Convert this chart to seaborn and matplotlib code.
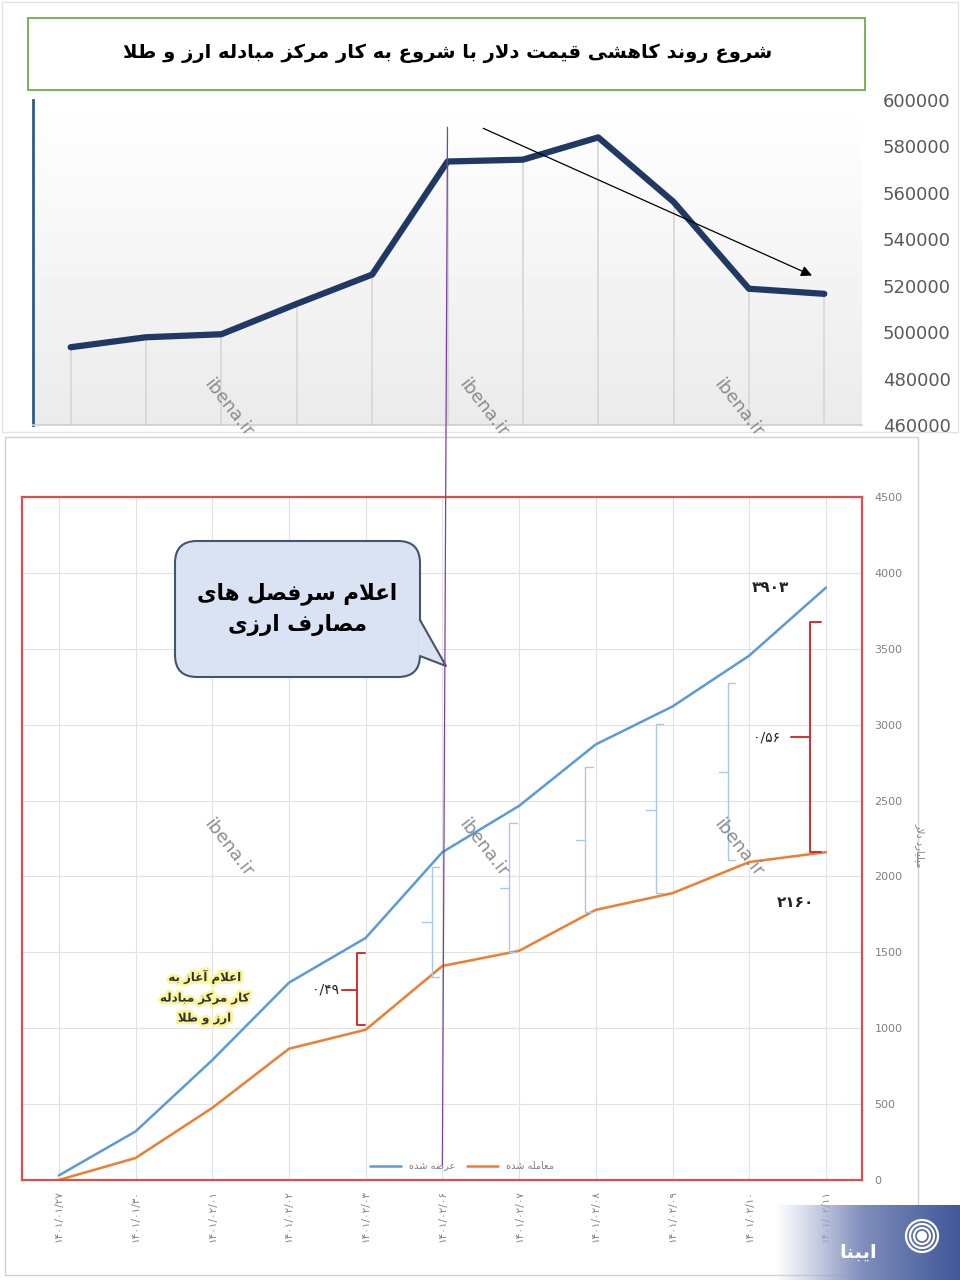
import numpy as np
import pandas as pd
import seaborn as sns
import matplotlib.pyplot as plt
from matplotlib.patches import Rectangle, FancyBboxPatch, Polygon, Circle, ConnectionPatch
from matplotlib import patheffects as pe

# ---- data ----
dates = ["۱۴۰۱/۰۱/۲۷", "۱۴۰۱/۰۱/۳۰", "۱۴۰۱/۰۲/۰۱", "۱۴۰۱/۰۲/۰۲", "۱۴۰۱/۰۲/۰۳", "۱۴۰۱/۰۲/۰۶",
         "۱۴۰۱/۰۲/۰۷", "۱۴۰۱/۰۲/۰۸", "۱۴۰۱/۰۲/۰۹", "۱۴۰۱/۰۲/۱۰", "۱۴۰۱/۰۲/۱۱"]
dollar = [493500, 497800, 499100, 512200, 524800, 573500, 574300, 583900, 556100, 518700, 516500]
offered = [30, 320, 790, 1300, 1595, 2160, 2465, 2870, 3120, 3455, 3903]
traded = [0, 145, 475, 865, 990, 1410, 1510, 1780, 1890, 2095, 2160]
top_ticks = [460000, 480000, 500000, 520000, 540000, 560000, 580000, 600000]
bot_ticks = [0, 500, 1000, 1500, 2000, 2500, 3000, 3500, 4000, 4500]

title = "شروع روند کاهشی قیمت دلار با شروع به کار مرکز مبادله ارز و طلا"
callout = ["اعلام سرفصل های", "مصارف ارزی"]
start_note = ["اعلام آغاز به", "کار مرکز مبادله", "ارز و طلا"]
lbl_offered = "عرضه شده"
lbl_traded = "معامله شده"
ylabel = "میلیارد دلار"
logo_txt = "ایبنا"
end_offered = "۳۹۰۳"
end_traded = "۲۱۶۰"
ratio_a = "۰/۴۹"
ratio_b = "۰/۵۶"

# ---- simple persian shaping (matplotlib has no complex text layout) ----
FORMS = {
    'ا': ('\uFE8D', '\uFE8E', None, None), 'آ': ('\uFE81', '\uFE82', None, None),
    'ب': ('\uFE8F', '\uFE90', '\uFE91', '\uFE92'), 'ت': ('\uFE95', '\uFE96', '\uFE97', '\uFE98'),
    'د': ('\uFEA9', '\uFEAA', None, None), 'ر': ('\uFEAD', '\uFEAE', None, None),
    'ز': ('\uFEAF', '\uFEB0', None, None), 'س': ('\uFEB1', '\uFEB2', '\uFEB3', '\uFEB4'),
    'ش': ('\uFEB5', '\uFEB6', '\uFEB7', '\uFEB8'), 'ص': ('\uFEB9', '\uFEBA', '\uFEBB', '\uFEBC'),
    'ض': ('\uFEBD', '\uFEBE', '\uFEBF', '\uFEC0'), 'ط': ('\uFEC1', '\uFEC2', '\uFEC3', '\uFEC4'),
    'ع': ('\uFEC9', '\uFECA', '\uFECB', '\uFECC'), 'غ': ('\uFECD', '\uFECE', '\uFECF', '\uFED0'),
    'ف': ('\uFED1', '\uFED2', '\uFED3', '\uFED4'), 'ق': ('\uFED5', '\uFED6', '\uFED7', '\uFED8'),
    'ل': ('\uFEDD', '\uFEDE', '\uFEDF', '\uFEE0'), 'م': ('\uFEE1', '\uFEE2', '\uFEE3', '\uFEE4'),
    'ن': ('\uFEE5', '\uFEE6', '\uFEE7', '\uFEE8'), 'ه': ('\uFEE9', '\uFEEA', '\uFEEB', '\uFEEC'),
    'و': ('\uFEED', '\uFEEE', None, None), 'ی': ('\uFBFC', '\uFBFD', '\uFBFE', '\uFBFF'),
    'ک': ('\uFB8E', '\uFB8F', '\uFB90', '\uFB91'),
}
LAM_ALEF = {'ا': ('\uFEFB', '\uFEFC'), 'آ': ('\uFEF5', '\uFEF6')}


def fa(s):
    out, i, prev = [], 0, False
    while i < len(s):
        c = s[i]
        if c not in FORMS:
            out.append(c); prev = False; i += 1; continue
        if c == 'ل' and i + 1 < len(s) and s[i + 1] in LAM_ALEF:
            iso, fin = LAM_ALEF[s[i + 1]]
            out.append(fin if prev else iso); prev = False; i += 2; continue
        f = FORMS[c]
        nxt = s[i + 1] if i + 1 < len(s) else None
        joins = f[2] is not None and nxt in FORMS
        out.append(f[3] if prev and joins else f[1] if prev else f[2] if joins else f[0])
        prev = joins
        i += 1
    return ''.join(reversed(out))


sns.set_theme(style="white")
plt.rcParams['font.family'] = ['DejaVu Sans']

fig = plt.figure(figsize=(9.6, 12.8), dpi=100)


def px(x0, y0, x1, y1):
    return [x0 / 960, 1 - y1 / 1280, (x1 - x0) / 960, (y1 - y0) / 1280]


bg = fig.add_axes([0, 0, 1, 1], zorder=0)
bg.set_xlim(0, 960); bg.set_ylim(1280, 0); bg.axis('off')
bg.add_patch(Rectangle((5, 437), 913, 838, facecolor='white', edgecolor='#d0d0d0', lw=1))
bg.add_patch(Rectangle((2, 2), 956, 430, facecolor='none', edgecolor='#e4e4e4', lw=1))

# ---- top chart: dollar price ----
ax1 = fig.add_axes(px(33, 100, 862, 425), zorder=2)
x = np.arange(len(dollar))
grad = np.linspace(1.0, 0.92, 100)[:, None]
ax1.imshow(grad, extent=[-0.5, 10.5, 460000, 600000], aspect='auto', cmap='gray',
           vmin=0, vmax=1, zorder=0)
ax1.vlines(x, 460000, dollar, color='#d6d6d6', lw=1.2, zorder=1)
sns.lineplot(x=x, y=dollar, ax=ax1, color='#1f3864', lw=4.5, zorder=3)
ax1.annotate('', xy=(9.87, 523900), xytext=(5.44, 588300),
             arrowprops=dict(arrowstyle='-|>', color='black', lw=0.9, mutation_scale=16), zorder=4)
ax1.set_xlim(-0.5, 10.5)
ax1.set_ylim(460000, 600000)
ax1.set_xticks([])
ax1.yaxis.tick_right()
ax1.set_yticks(top_ticks)
ax1.tick_params(axis='y', length=0, pad=15, labelsize=13, labelcolor='#595959')
for s in ['top', 'right']:
    ax1.spines[s].set_visible(False)
ax1.spines['left'].set_color('#2e5d84'); ax1.spines['left'].set_linewidth(2)
ax1.spines['bottom'].set_color('#d0d0d0')
ax1.patch.set_alpha(0)

# ---- bottom chart: offered vs traded ----
ax2 = fig.add_axes(px(22, 497, 862, 1180), zorder=2)
ax2.set_facecolor('white')
sns.lineplot(x=x, y=offered, ax=ax2, color='#5b9bd5', lw=1.8, label=fa(lbl_offered))
sns.lineplot(x=x, y=traded, ax=ax2, color='#ed7d31', lw=1.8, label=fa(lbl_traded))
ax2.set_xlim(-0.48, 10.47)
ax2.set_ylim(0, 4500)
ax2.set_xticks(x)
ax2.set_xticklabels(dates, rotation=90, fontsize=7.5, color='#7f7f7f')
ax2.yaxis.tick_right()
ax2.set_yticks(bot_ticks)
ax2.tick_params(axis='y', length=0, pad=9, labelsize=8, labelcolor='#808080')
ax2.tick_params(axis='x', length=0, pad=7)
ax2.grid(True, color='#e2e2e2', lw=0.8)
for s in ax2.spines.values():
    s.set_color('#dc4f4f'); s.set_linewidth(1.6)
ax2.yaxis.set_label_position('right')
ax2.set_ylabel(fa(ylabel), rotation=-90, fontsize=7, color='#7f7f7f', labelpad=-14)
ax2.yaxis.set_label_coords(1.075, 0.49)
ax2.legend(loc='lower center', bbox_to_anchor=(0.524, 0.0), ncol=2, frameon=False,
           fontsize=7, handlelength=3.2, labelcolor='#808080', columnspacing=1.2)


def bracket(ax, bx, y0, y1, ytick, color, lw, serif=0.12, tick=0.25):
    ax.plot([bx + serif, bx, bx, bx + serif], [y0, y0, y1, y1], color=color, lw=lw, zorder=4)
    ax.plot([bx - tick, bx], [ytick, ytick], color=color, lw=lw, zorder=4)


# faint gap brackets
gaps = [(4.86, 1337, 2062, 1700), (5.87, 1502, 2352, 1924), (6.86, 1766, 2721, 2240),
        (7.78, 1891, 3004, 2438), (8.72, 2108, 3274, 2688)]
for bx, y0, y1, yt in gaps:
    bracket(ax2, bx, y0, y1, yt, '#a9c8e8', 1.0, serif=0.1, tick=0.12)

bracket(ax2, 3.885, traded[4] + 30, 1495, 1252, '#d62c2c', 1.4, serif=0.1, tick=0.2)
bracket(ax2, 9.79, traded[10], 3676, 2918, '#d62c2c', 1.4, serif=0.15, tick=0.25)
ax2.text(3.47, 1252, ratio_a, ha='center', va='center', fontsize=10, color='#222222')
ax2.text(9.22, 2918, ratio_b, ha='center', va='center', fontsize=10, color='#222222')
ax2.annotate(end_offered, (10, offered[-1]), xytext=(-40, 0), textcoords='offset points',
             ha='center', va='center', fontsize=11, fontweight='bold', color='#222222')
ax2.annotate(end_traded, (10, traded[-1]), xytext=(-22, -36), textcoords='offset points',
             ha='center', va='center', fontsize=11, fontweight='bold', color='#222222')
ax2.text(1.9, 1205, "\n".join(fa(t) for t in start_note), ha='center', va='center',
         fontsize=8.5, fontweight='bold', color='#333333', linespacing=1.7,
         path_effects=[pe.withStroke(linewidth=4, foreground='#fbf59a')])

# purple marker line through both charts
con = ConnectionPatch(xyA=(5, 588300), coordsA=ax1.transData, xyB=(5, 100), coordsB=ax2.transData,
                      color='#7a3fa8', lw=0.9, zorder=6)
fig.add_artist(con)

# ---- overlay: title, callout, watermarks, logo ----
ov = fig.add_axes([0, 0, 1, 1], zorder=5)
ov.set_xlim(0, 960); ov.set_ylim(1280, 0); ov.axis('off')

ov.add_patch(Rectangle((28, 18), 837, 72, facecolor='white', edgecolor='#70ad47', lw=1.3))
ov.text(448, 53, fa(title), ha='center', va='center', fontsize=14, fontweight='bold', color='black')

ov.add_patch(FancyBboxPatch((175, 541), 245, 136, boxstyle='round,pad=0,rounding_size=22',
                            facecolor='#dae3f3', edgecolor='#44546a', lw=1.5))
ov.add_patch(Polygon([(419, 620), (446, 666), (419, 656)], closed=True, facecolor='#dae3f3',
                     edgecolor='none', zorder=3))
ov.plot([420, 446, 420], [620, 666, 656], color='#44546a', lw=1.5, zorder=3)
ov.text(297, 609, "\n".join(fa(t) for t in callout), ha='center', va='center', fontsize=15.5,
        fontweight='bold', color='black', linespacing=1.5)

for wx, wy in [(228, 408), (483, 408), (738, 408), (228, 848), (483, 848), (738, 848)]:
    ov.text(wx, wy, "ibena.ir", rotation=-52, ha='center', va='center', fontsize=13,
            color='#7a7a7a', alpha=0.85, rotation_mode='anchor')

logo = np.zeros((2, 100, 4))
c0 = np.array([0.93, 0.94, 0.98]); c1 = np.array([0.26, 0.35, 0.60])
t = np.linspace(0, 1, 100) ** 0.6
logo[:, :, :3] = c0 + (c1 - c0) * t[:, None]
logo[:, :, 3] = np.clip(t * 1.6, 0, 1)
ov.imshow(logo, extent=(775, 960, 1280, 1205), aspect='auto', zorder=4)
ov.text(858, 1252, fa(logo_txt), ha='center', va='center', fontsize=14, fontweight='bold',
        color='white', zorder=5)
for r in [4, 8, 12, 16]:
    ov.add_patch(Circle((922, 1236), r, facecolor='white' if r == 4 else 'none', edgecolor='white',
                        lw=1.6, zorder=5))
ov.set_xlim(0, 960); ov.set_ylim(1280, 0)

fig.savefig('out.png', dpi=100, facecolor='white')
